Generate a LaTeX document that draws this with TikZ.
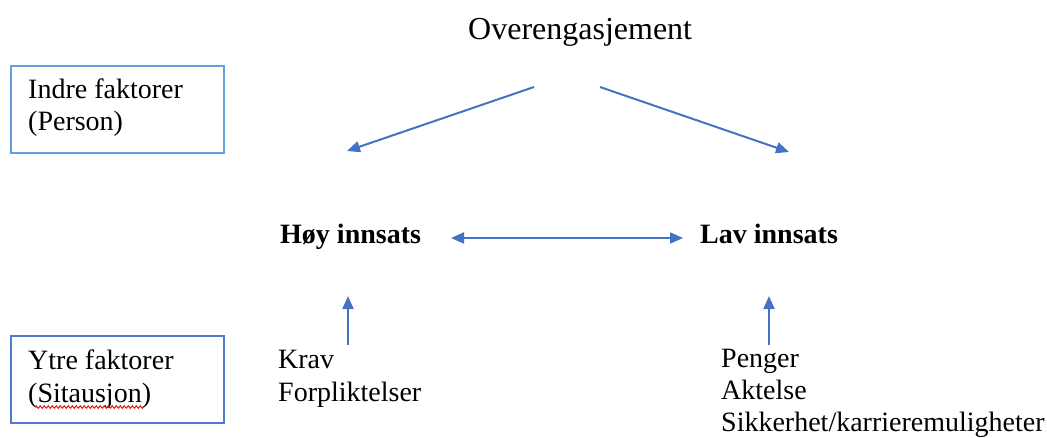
\documentclass[tikz,border=0pt]{standalone}
\usepackage{fontspec}
\setmainfont{Liberation Serif}
\usetikzlibrary{arrows.meta,decorations.pathmorphing}
\definecolor{arrowblue}{RGB}{68,114,196}
\definecolor{boxlight}{RGB}{100,160,220}
\definecolor{boxdark}{RGB}{80,120,205}
\definecolor{spellred}{RGB}{220,30,30}
\tikzset{
  txt/.style={inner sep=0pt, anchor=base west, font=\fontsize{28}{32}\selectfont},
  bold/.style={txt, font=\fontsize{28}{32}\selectfont\bfseries},
  title/.style={inner sep=0pt, anchor=base west, font=\fontsize{32}{36}\selectfont},
  framebox/.style={draw, line width=2pt, anchor=north west, minimum width=213pt, minimum height=87pt, inner sep=0pt},
  arr/.style={draw=arrowblue, line width=2pt, -{Triangle[length=13pt,width=11pt]}},
  darr/.style={draw=arrowblue, line width=2pt, {Triangle[length=13pt,width=11pt]}-{Triangle[length=13pt,width=11pt]}},
}
\begin{document}
\begin{tikzpicture}[x=1pt,y=-1pt]
\useasboundingbox (0,0) rectangle (1047,437);
% title
\node[title] (over) at (468,39) {Overengasjement};
% boxes
\node[framebox, draw=boxlight] (indre) at (10,65) {};
\node[txt] (indre1) at (28,98) {Indre faktorer};
\node[txt] (indre2) at (28,130) {(Person)};
\node[framebox, draw=boxdark] (ytre) at (10,335) {};
\node[txt] (ytre1) at (28,369) {Ytre faktorer};
\node[txt] (ytre2) at (28,402) {(Sitausjon)};
\draw[spellred, line width=1pt, decorate, decoration={snake, amplitude=1.3pt, segment length=4pt}]
  ([xshift=7pt,yshift=-5pt]ytre2.base west) -- ([xshift=-7pt,yshift=-5pt]ytre2.base east);
% middle
\node[bold] (hoy) at (280,243) {Høy innsats};
\node[bold] (lav) at (700,243) {Lav innsats};
% lists
\node[txt] (krav) at (278,368) {Krav};
\node[txt] (forp) at (278,401) {Forpliktelser};
\node[txt] (penger) at (721,367) {Penger};
\node[txt] (aktelse) at (721,399) {Aktelse};
\node[txt] (sikk) at (721,431) {Sikkerhet/karrieremuligheter};
% connector ends
\coordinate (oL) at (534,87);
\coordinate (oR) at (600,87);
\coordinate (hoyTop) at (347,151);
\coordinate (lavTop) at (789,152);
\coordinate (hoyIn) at (348,296);
\coordinate (kravOut) at (348,345);
\coordinate (lavIn) at (769,296);
\coordinate (pengOut) at (769,345);
\coordinate (dL) at (451,238);
\coordinate (dR) at (683,238);
% arrows
\draw[arr] (oL) -- (hoyTop);
\draw[arr] (oR) -- (lavTop);
\draw[darr] (dL) -- (dR);
\draw[arr] (kravOut) -- (hoyIn);
\draw[arr] (pengOut) -- (lavIn);
\end{tikzpicture}
\end{document}
